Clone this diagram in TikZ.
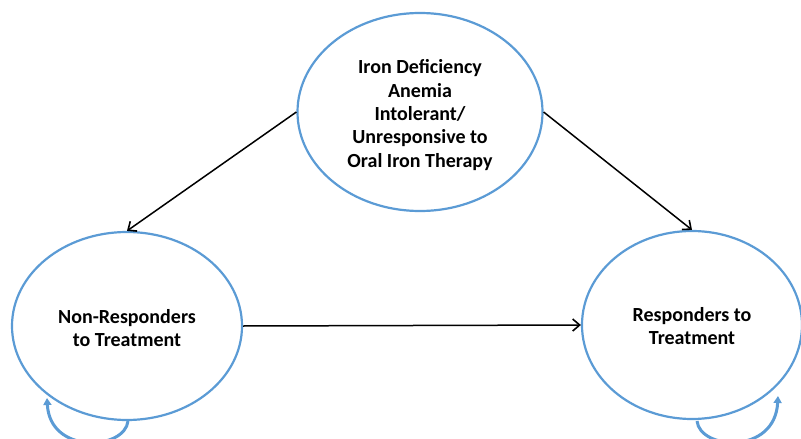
\documentclass[tikz,border=0pt]{standalone}
\usepackage{fontspec}
\setmainfont{Carlito}
\usetikzlibrary{arrows.meta,shapes.geometric}
\definecolor{ringblue}{RGB}{91,155,213}
\tikzset{
  ring/.style={draw=ringblue, line width=2.2pt, ellipse, inner sep=0pt},
  lbl/.style={font=\bfseries\fontsize{20}{23.3}\selectfont, align=center, text=black},
  conn/.style={-{Straight Barb[length=7pt,width=12pt,line width=1.6pt]}, line width=1.5pt, black},
  loop/.style={-{Triangle[length=7pt,width=8pt]}, draw=ringblue, line width=3pt},
}
\begin{document}
\begin{tikzpicture}[x=1pt,y=-1pt]
\useasboundingbox (0,0) rectangle (801,439);
\node[ring, minimum width=245pt, minimum height=198pt] (top) at (420,112) {};
\node[lbl] at ([yshift=-3pt]top.center) {Iron Deficiency\\Anemia\\Intolerant/\\Unresponsive to\\Oral Iron Therapy};
\node[ring, minimum width=230pt, minimum height=188pt] (non) at (127,326) {};
\node[lbl] at ([yshift=-2pt]non.center) {Non-Responders\\to Treatment};
\node[ring, minimum width=220pt, minimum height=188pt] (res) at (692,325) {};
\node[lbl] at ([yshift=-1pt]res.center) {Responders to\\Treatment};
\draw[conn] (top.west) -- (non.north);
\draw[conn] (top.east) -- (res.north);
\draw[conn] (non.east) -- (res.west);
\coordinate (l1) at (128,421);
\coordinate (l2) at (47,398);
\draw[loop] (l1) .. controls (125,450) and (50,455) .. (l2);
\coordinate (r1) at (697,421);
\coordinate (r2) at (778,396);
\draw[loop] (r1) .. controls (700,450) and (775,455) .. (r2);
\end{tikzpicture}
\end{document}
